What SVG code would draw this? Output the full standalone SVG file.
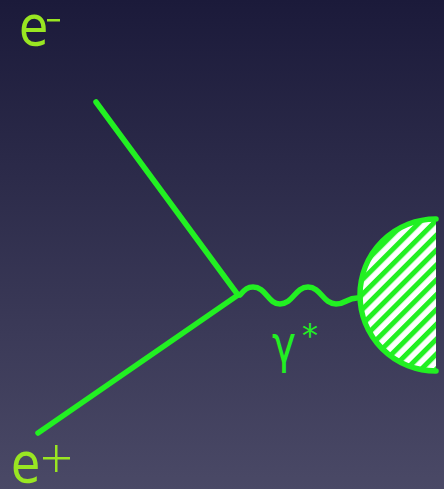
<svg xmlns="http://www.w3.org/2000/svg" width="444" height="489" viewBox="0 0 444 489">
<defs>
<linearGradient id="bg" x1="0" y1="0" x2="0" y2="1">
<stop offset="0" stop-color="#1b1a3a"/>
<stop offset="1" stop-color="#4a4966"/>
</linearGradient>
<pattern id="hatch" width="10.5" height="10.5" patternUnits="userSpaceOnUse" patternTransform="rotate(45)">
<rect width="10.5" height="10.5" fill="#ffffff"/>
<rect width="5" height="10.5" fill="#22f022"/>
</pattern>
</defs>
<style>
.fer{stroke:#22f022;stroke-width:5.5;fill:none;stroke-linecap:round}
.lab{font-family:"DejaVu Sans",sans-serif;fill:#99e622}
.g{font-family:"DejaVu Sans",sans-serif;fill:#22f022}
</style>
<rect width="444" height="489" fill="url(#bg)"/>
<g id="connectors">
<line class="fer" x1="96" y1="102" x2="238" y2="295"/>
<line class="fer" x1="38" y1="433" x2="238" y2="295"/>
<path class="fer" d="M240,295 C245,289 248,287 253,287 C266,287 268,304 280,304 C293,304 295,287 308,287 C321,287 323,304 336,304 C346,304 347,298 357,298"/>
</g>
<g id="blob">
<path d="M436,219 A76,76 0 0 0 436,371 Z" fill="url(#hatch)"/>
<path d="M436,219 A76,76 0 0 0 436,371" class="fer"/>
</g>
<g id="labels">
<text class="lab" font-size="56" transform="translate(19,45) scale(0.85,1)">e</text>
<rect x="47" y="19" width="13" height="2.5" fill="#99e622"/>
<text class="lab" font-size="56" transform="translate(11,482) scale(0.85,1)">e</text>
<rect x="43" y="457" width="27" height="2.5" fill="#99e622"/>
<rect x="55" y="445" width="2.5" height="27" fill="#99e622"/>
<text class="g" font-size="52" transform="translate(272,362) scale(0.78,1)">γ</text>
<text class="g" x="302" y="346" font-size="32">*</text>
</g>
</svg>
